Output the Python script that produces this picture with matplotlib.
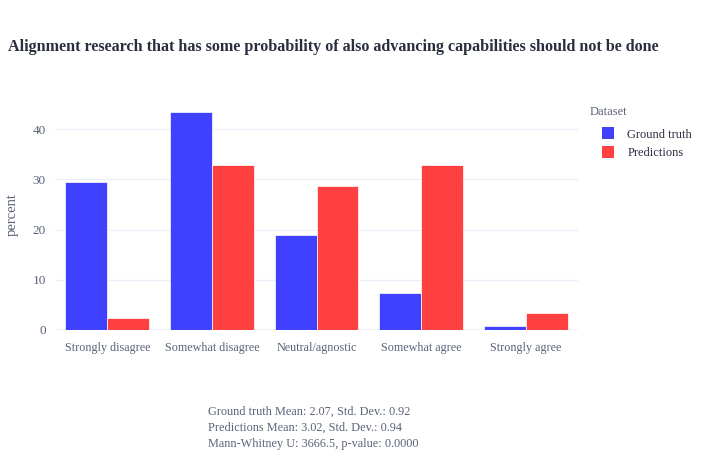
import numpy as np
import matplotlib.pyplot as plt
from matplotlib.patches import Patch

# Dades
categories = ['Strongly disagree', 'Somewhat disagree', 'Neutral/agnostic', 'Somewhat agree', 'Strongly agree']
ground_truth = [29.5, 43.5, 18.9, 7.4, 0.7]
predictions = [2.4, 32.8, 28.7, 32.8, 3.3]
series_labels = ['Ground truth', 'Predictions']
stats_lines = ['Ground truth Mean: 2.07, Std. Dev.: 0.92',
               'Predictions Mean: 3.02, Std. Dev.: 0.94',
               'Mann-Whitney U: 3666.5, p-value: 0.0000']
title = 'Alignment research that has some probability of also advancing capabilities should not be done'

plt.rcParams['font.family'] = ['Liberation Serif', 'DejaVu Serif']
txt_color = '#5b6378'
blue = '#4040ff'
red = '#ff4040'

fig = plt.figure(figsize=(7.04, 4.5), dpi=100)
W, H = 704, 450
ax = fig.add_axes([55 / W, 1 - 330 / H, (578 - 55) / W, (330 - 100) / H])

x = np.arange(len(categories))
w = 0.4
ax.bar(x - w / 2, ground_truth, width=w, color=blue, edgecolor='white', linewidth=0.5, zorder=2)
ax.bar(x + w / 2, predictions, width=w, color=red, edgecolor='white', linewidth=0.5, zorder=2)

ax.set_xlim(-0.5, len(categories) - 0.5)
ax.set_ylim(0, max(ground_truth + predictions) * 1.053)
ax.set_yticks([0, 10, 20, 30, 40])
ax.set_xticks(x)
ax.set_xticklabels(categories)
ax.grid(axis='y', color='#ebf0f8', linewidth=1, zorder=0)
ax.axhline(0, color='#ebf0f8', linewidth=2, zorder=1)
for s in ax.spines.values():
    s.set_visible(False)
ax.tick_params(axis='x', length=0, labelsize=8.7, colors=txt_color, pad=9)
ax.tick_params(axis='y', length=0, labelsize=9.5, colors=txt_color, pad=6.5)
ax.set_ylabel('percent', fontsize=10.5, color=txt_color, labelpad=10)

fig.text(8 / W, 1 - 47 / H, title, fontsize=11.6, fontweight='bold', color='#2a2f3f', va='center')

# Llegenda (títol a part perquè les mostres quedin sagnades)
fig.text(590 / W, 1 - 112 / H, 'Dataset', fontsize=9, color=txt_color, va='center')
handles = [Patch(facecolor=blue), Patch(facecolor=red)]
leg = fig.legend(handles, series_labels, loc='upper left',
                 bbox_to_anchor=(591 / W, 1 - 116 / H), frameon=False, fontsize=9,
                 handlelength=0.9, handleheight=1.1, handletextpad=1.1,
                 labelspacing=0.45)
for t in leg.get_texts():
    t.set_color('#2a2f3f')

# Estadístiques
for i, line in enumerate(stats_lines):
    fig.text(208 / W, 1 - (411.5 + i * 16) / H, line, fontsize=8.8, color=txt_color, va='center')

plt.savefig('out.png', dpi=100)
